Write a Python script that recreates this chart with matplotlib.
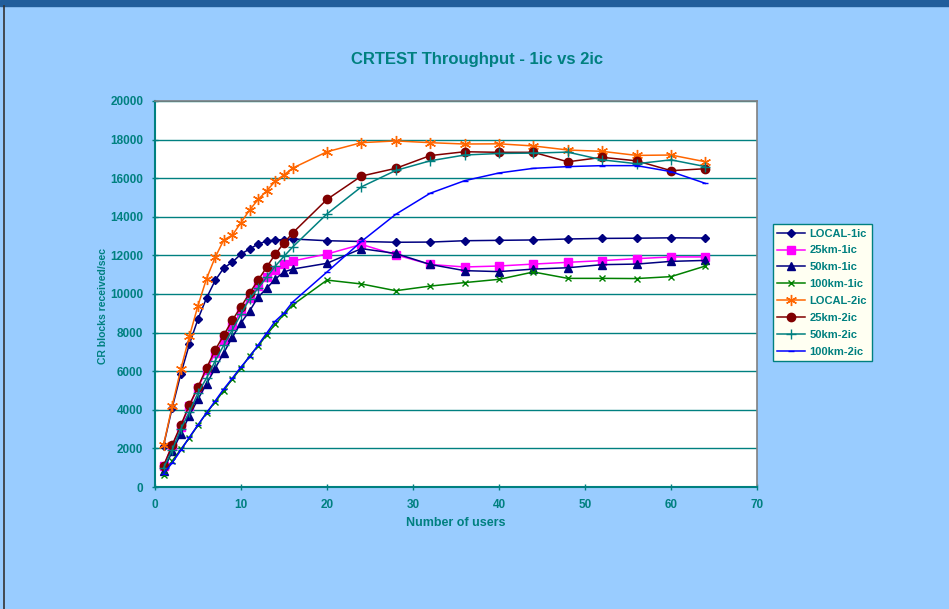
import matplotlib
matplotlib.use("Agg")
import matplotlib.pyplot as plt
from matplotlib.lines import Line2D

users = [1, 2, 3, 4, 5, 6, 7, 8, 9, 10, 11, 12, 13, 14, 15, 16,
         20, 24, 28, 32, 36, 40, 44, 48, 52, 56, 60, 64]

local_1ic = [2150, 4100, 5850, 7400, 8700, 9800, 10700, 11350, 11650, 12070, 12330, 12590, 12740, 12800,
             12820, 12850, 12760, 12720, 12680, 12690, 12760, 12780, 12800, 12850, 12880, 12890, 12910, 12900]
km25_1ic = [1100, 2150, 3100, 4200, 5150, 6050, 6950, 7600, 8350, 9100, 9800, 10400, 10880, 11240,
            11550, 11710, 12070, 12570, 12030, 11530, 11400, 11450, 11550, 11640, 11730, 11830, 11920, 11920]
km50_1ic = [850, 1850, 2750, 3700, 4550, 5350, 6150, 6950, 7770, 8500, 9120, 9840, 10300, 10780,
            11140, 11290, 11590, 12350, 12100, 11530, 11210, 11160, 11290, 11360, 11520, 11550, 11690, 11740]
km100_1ic = [620, 1350, 1950, 2550, 3200, 3850, 4400, 5000, 5600, 6150, 6800, 7300, 7900, 8440,
             8950, 9430, 10720, 10520, 10170, 10410, 10590, 10760, 11140, 10810, 10810, 10800, 10900, 11450]
local_2ic = [2180, 4200, 6100, 7800, 9400, 10800, 11900, 12800, 13050, 13700, 14350, 14900, 15350, 15850,
             16170, 16520, 17370, 17840, 17930, 17840, 17770, 17780, 17670, 17460, 17390, 17180, 17200, 16850]
km25_2ic = [1090, 2170, 3200, 4250, 5180, 6170, 7100, 7870, 8650, 9330, 10050, 10720, 11400, 12070,
            12640, 13160, 14900, 16110, 16510, 17170, 17370, 17340, 17340, 16850, 17080, 16900, 16390, 16490]
km50_2ic = [990, 1920, 3000, 3890, 4870, 5650, 6530, 7350, 8150, 8950, 9750, 10300, 10880, 11450,
            11950, 12430, 14150, 15550, 16400, 16900, 17200, 17280, 17300, 17350, 16950, 16750, 16950, 16600]
km100_2ic = [700, 1250, 1900, 2580, 3220, 3840, 4460, 5080, 5640, 6220, 6740, 7360, 7980, 8600,
             9010, 9580, 11140, 12720, 14130, 15220, 15870, 16270, 16510, 16600, 16650, 16650, 16340, 15730]

series = [
    ("LOCAL-1ic", local_1ic, "#000080", "D", 4),
    ("25km-1ic", km25_1ic, "#FF00FF", "s", 6),
    ("50km-1ic", km50_1ic, "#000080", "^", 6),
    ("100km-1ic", km100_1ic, "#008000", "x", 5),
    ("LOCAL-2ic", local_2ic, "#FF6600", (6, 2, 0), 8),
    ("25km-2ic", km25_2ic, "#800000", "o", 6),
    ("50km-2ic", km50_2ic, "#008080", "+", 7),
    ("100km-2ic", km100_2ic, "#0000FF", "_", 5),
]

teal = "#008080"
bg = "#99CCFF"
plt.rcParams["font.family"] = ["Liberation Sans", "DejaVu Sans"]

fig = plt.figure(figsize=(9.49, 6.09), dpi=100, facecolor=bg)
ax = fig.add_axes([0.1633, 0.2003, 0.6344, 0.6339])
ax.set_facecolor("white")

for name, vals, col, mk, ms in series:
    ax.plot(users, vals, color=col, lw=1.1, marker=mk, markersize=ms,
            markerfacecolor=col, markeredgecolor=col, markeredgewidth=1.0, label=name)

ax.set_xlim(0, 70)
ax.set_ylim(0, 20000)
ax.set_xticks(range(0, 71, 10))
ax.set_yticks(range(0, 20001, 2000))
ax.yaxis.grid(True, color=teal, lw=1.0)
ax.set_axisbelow(True)

for s in ["top", "right"]:
    ax.spines[s].set_color("#808080")
    ax.spines[s].set_linewidth(1.2)
for s in ["left", "bottom"]:
    ax.spines[s].set_color(teal)
    ax.spines[s].set_linewidth(1.5)

ax.tick_params(axis="both", colors=teal, direction="inout", length=5, width=1,
               labelsize=8.5)
for lbl in ax.get_xticklabels() + ax.get_yticklabels():
    lbl.set_fontweight("bold")
    lbl.set_color(teal)
ax.tick_params(axis="x", pad=6)
ax.tick_params(axis="y", pad=6)

fig.text(0.503, 0.903, "CRTEST Throughput - 1ic vs 2ic", color=teal, fontsize=12,
         fontweight="bold", ha="center", va="center")
ax.set_xlabel("Number of users", color=teal, fontsize=9, fontweight="bold")
ax.xaxis.set_label_coords(0.5, -0.093)
ax.xaxis.label.set_va("center")
ax.set_ylabel("CR blocks received/sec", color=teal, fontsize=7.5, fontweight="bold")
ax.yaxis.set_label_coords(-0.087, 0.47)
ax.yaxis.label.set_va("center")

leg = ax.legend(loc="upper left", bbox_to_anchor=(1.0266, 0.681), borderaxespad=0,
                frameon=True, framealpha=1, fontsize=8, handlelength=2.5,
                labelspacing=0.62, borderpad=0.4, handletextpad=0.4, fancybox=False)
leg.get_frame().set_facecolor("#FFFFF2")
leg.get_frame().set_edgecolor(teal)
leg.get_frame().set_linewidth(1.0)
for t in leg.get_texts():
    t.set_color(teal)
    t.set_fontweight("bold")

# window chrome: top bar and left border
fig.patches.append(plt.Rectangle((0, 0.99), 1, 0.01, transform=fig.transFigure,
                                 color="#215E9C", zorder=0))
fig.lines.append(Line2D([0.004, 0.004], [0, 0.99], transform=fig.transFigure,
                        color="#333333", lw=1.2))

fig.savefig("out.png", dpi=100, facecolor=bg)
